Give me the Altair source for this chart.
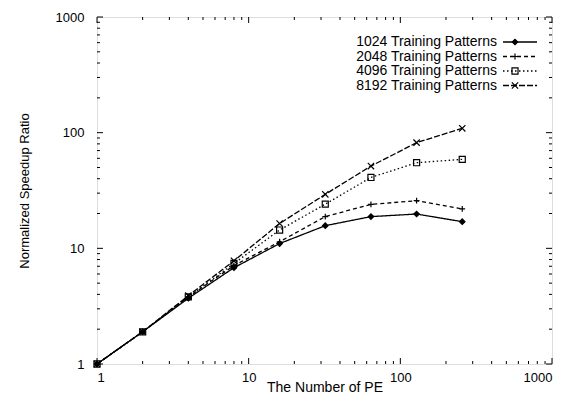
import altair as alt
import pandas as pd

pe = [1, 2, 4, 8, 16, 32, 64, 128, 256]
series_names = ["1024 Training Patterns", "2048 Training Patterns",
                "4096 Training Patterns", "8192 Training Patterns"]
s1024 = [1, 1.9, 3.7, 6.8, 11.0, 15.7, 18.8, 19.8, 17.0]
s2048 = [1, 1.9, 3.8, 7.1, 11.4, 18.8, 24.0, 25.8, 21.9]
s4096 = [1, 1.9, 3.8, 7.4, 14.4, 24.1, 41.0, 55.0, 58.8]
s8192 = [1, 1.9, 3.9, 7.8, 16.4, 29.3, 51.4, 82.0, 109.0]
major_ticks = [1, 10, 100, 1000]
minor_ticks = [m * 10 ** k for k in range(3) for m in range(2, 10)]

W, H = 455, 347
FONT = "Liberation Sans"

rows = []
for name, vals in zip(series_names, [s1024, s2048, s4096, s8192]):
    for p, v in zip(pe, vals):
        rows.append({"series": name, "pe": p, "speedup": v})
df = pd.DataFrame(rows)

dash_scale = alt.Scale(domain=series_names,
                       range=[[1, 0], [4, 3], [1.5, 2.5], [6, 2]])
shape_scale = alt.Scale(domain=series_names,
                        range=["diamond", "M-1,0H1M0,-1V1", "square",
                               "M-1,-1L1,1M-1,1L1,-1"])
fill_scale = alt.Scale(domain=series_names,
                       range=["black", "transparent", "transparent", "transparent"])
size_scale = alt.Scale(domain=series_names, range=[30, 40, 28, 30])

xs = alt.Scale(type="log", domain=[1, 1000], nice=False)
ys = alt.Scale(type="log", domain=[1, 1000], nice=False)

xaxis = alt.Axis(values=major_ticks, format="d", tickSize=0, grid=False, domain=False,
                 labelFont=FONT, labelFontSize=13, labelColor="black", labelPadding=7,
                 title="The Number of PE", titleFont=FONT, titleFontSize=14,
                 titleFontWeight="normal", titleColor="black",
                 titleBaseline="alphabetic", titleY=27)
yaxis = alt.Axis(values=major_ticks, format="d", tickSize=0, grid=False, domain=False,
                 labelFont=FONT, labelFontSize=13, labelColor="black", labelPadding=13,
                 title="Normalized Speedup Ratio", titleFont=FONT, titleFontSize=13,
                 titleFontWeight="normal", titleColor="black", titlePadding=24)

base = alt.Chart(df)
lines = base.mark_line(color="black", strokeWidth=1.3, clip=True).encode(
    x=alt.X("pe:Q", scale=xs, axis=xaxis),
    y=alt.Y("speedup:Q", scale=ys, axis=yaxis),
    strokeDash=alt.StrokeDash("series:N", scale=dash_scale, legend=None),
    detail="series:N",
)
points = base.mark_point(color="black", strokeWidth=1.2, opacity=1).encode(
    x=alt.X("pe:Q", scale=xs),
    y=alt.Y("speedup:Q", scale=ys),
    shape=alt.Shape("series:N", scale=shape_scale, legend=None),
    fill=alt.Fill("series:N", scale=fill_scale, legend=None),
    size=alt.Size("series:N", scale=size_scale, legend=None),
)

# legend (label left, sample right) placed inside the plot, in data coordinates
leg = pd.DataFrame({"series": series_names, "idx": list(range(len(series_names)))})
lbase = alt.Chart(leg).transform_calculate(
    ly=f"pow(10, {(H - 25) / (H / 3)} - datum.idx * {14.5 / (H / 3)})",
    lx=f"pow(10, {400 / (W / 3)})",
    lx1=f"pow(10, {406 / (W / 3)})",
    lx2=f"pow(10, {440 / (W / 3)})",
    lxm=f"pow(10, {418 / (W / 3)})",
)
ltext = lbase.mark_text(align="right", baseline="middle", font=FONT, fontSize=14,
                        color="black").encode(
    x=alt.X("lx:Q", scale=xs), y=alt.Y("ly:Q", scale=ys), text="series:N")
lrule = lbase.mark_rule(color="black", strokeWidth=1.3).encode(
    x=alt.X("lx1:Q", scale=xs), x2="lx2:Q", y=alt.Y("ly:Q", scale=ys),
    strokeDash=alt.StrokeDash("series:N", scale=dash_scale, legend=None))
lpt = lbase.mark_point(color="black", strokeWidth=1.2, opacity=1).encode(
    x=alt.X("lxm:Q", scale=xs), y=alt.Y("ly:Q", scale=ys),
    shape=alt.Shape("series:N", scale=shape_scale, legend=None),
    fill=alt.Fill("series:N", scale=fill_scale, legend=None),
    size=alt.Size("series:N", scale=size_scale, legend=None))

# inward ticks on all four sides
def tick_layers(values, length):
    d = pd.DataFrame({"t": values})
    c = alt.Chart(d)
    st = dict(color="black", strokeWidth=1)
    return [
        c.mark_rule(**st).encode(x=alt.X("t:Q", scale=xs), y=alt.value(H), y2=alt.value(H - length)),
        c.mark_rule(**st).encode(x=alt.X("t:Q", scale=xs), y=alt.value(0), y2=alt.value(length)),
        c.mark_rule(**st).encode(y=alt.Y("t:Q", scale=ys), x=alt.value(0), x2=alt.value(length)),
        c.mark_rule(**st).encode(y=alt.Y("t:Q", scale=ys), x=alt.value(W), x2=alt.value(W - length)),
    ]

ticks = tick_layers(major_ticks, 6) + tick_layers(minor_ticks, 3)

chart = alt.layer(lines, points, ltext, lrule, lpt, *ticks).properties(
    width=W, height=H,
    autosize=alt.AutoSizeParams(type="none"),
    padding={"left": 89, "top": 9, "right": 9, "bottom": 31},
).configure_view(stroke="black", strokeWidth=1.3).configure(background="white")

chart.save("out.html", embed_options={"renderer": "svg", "actions": False})
